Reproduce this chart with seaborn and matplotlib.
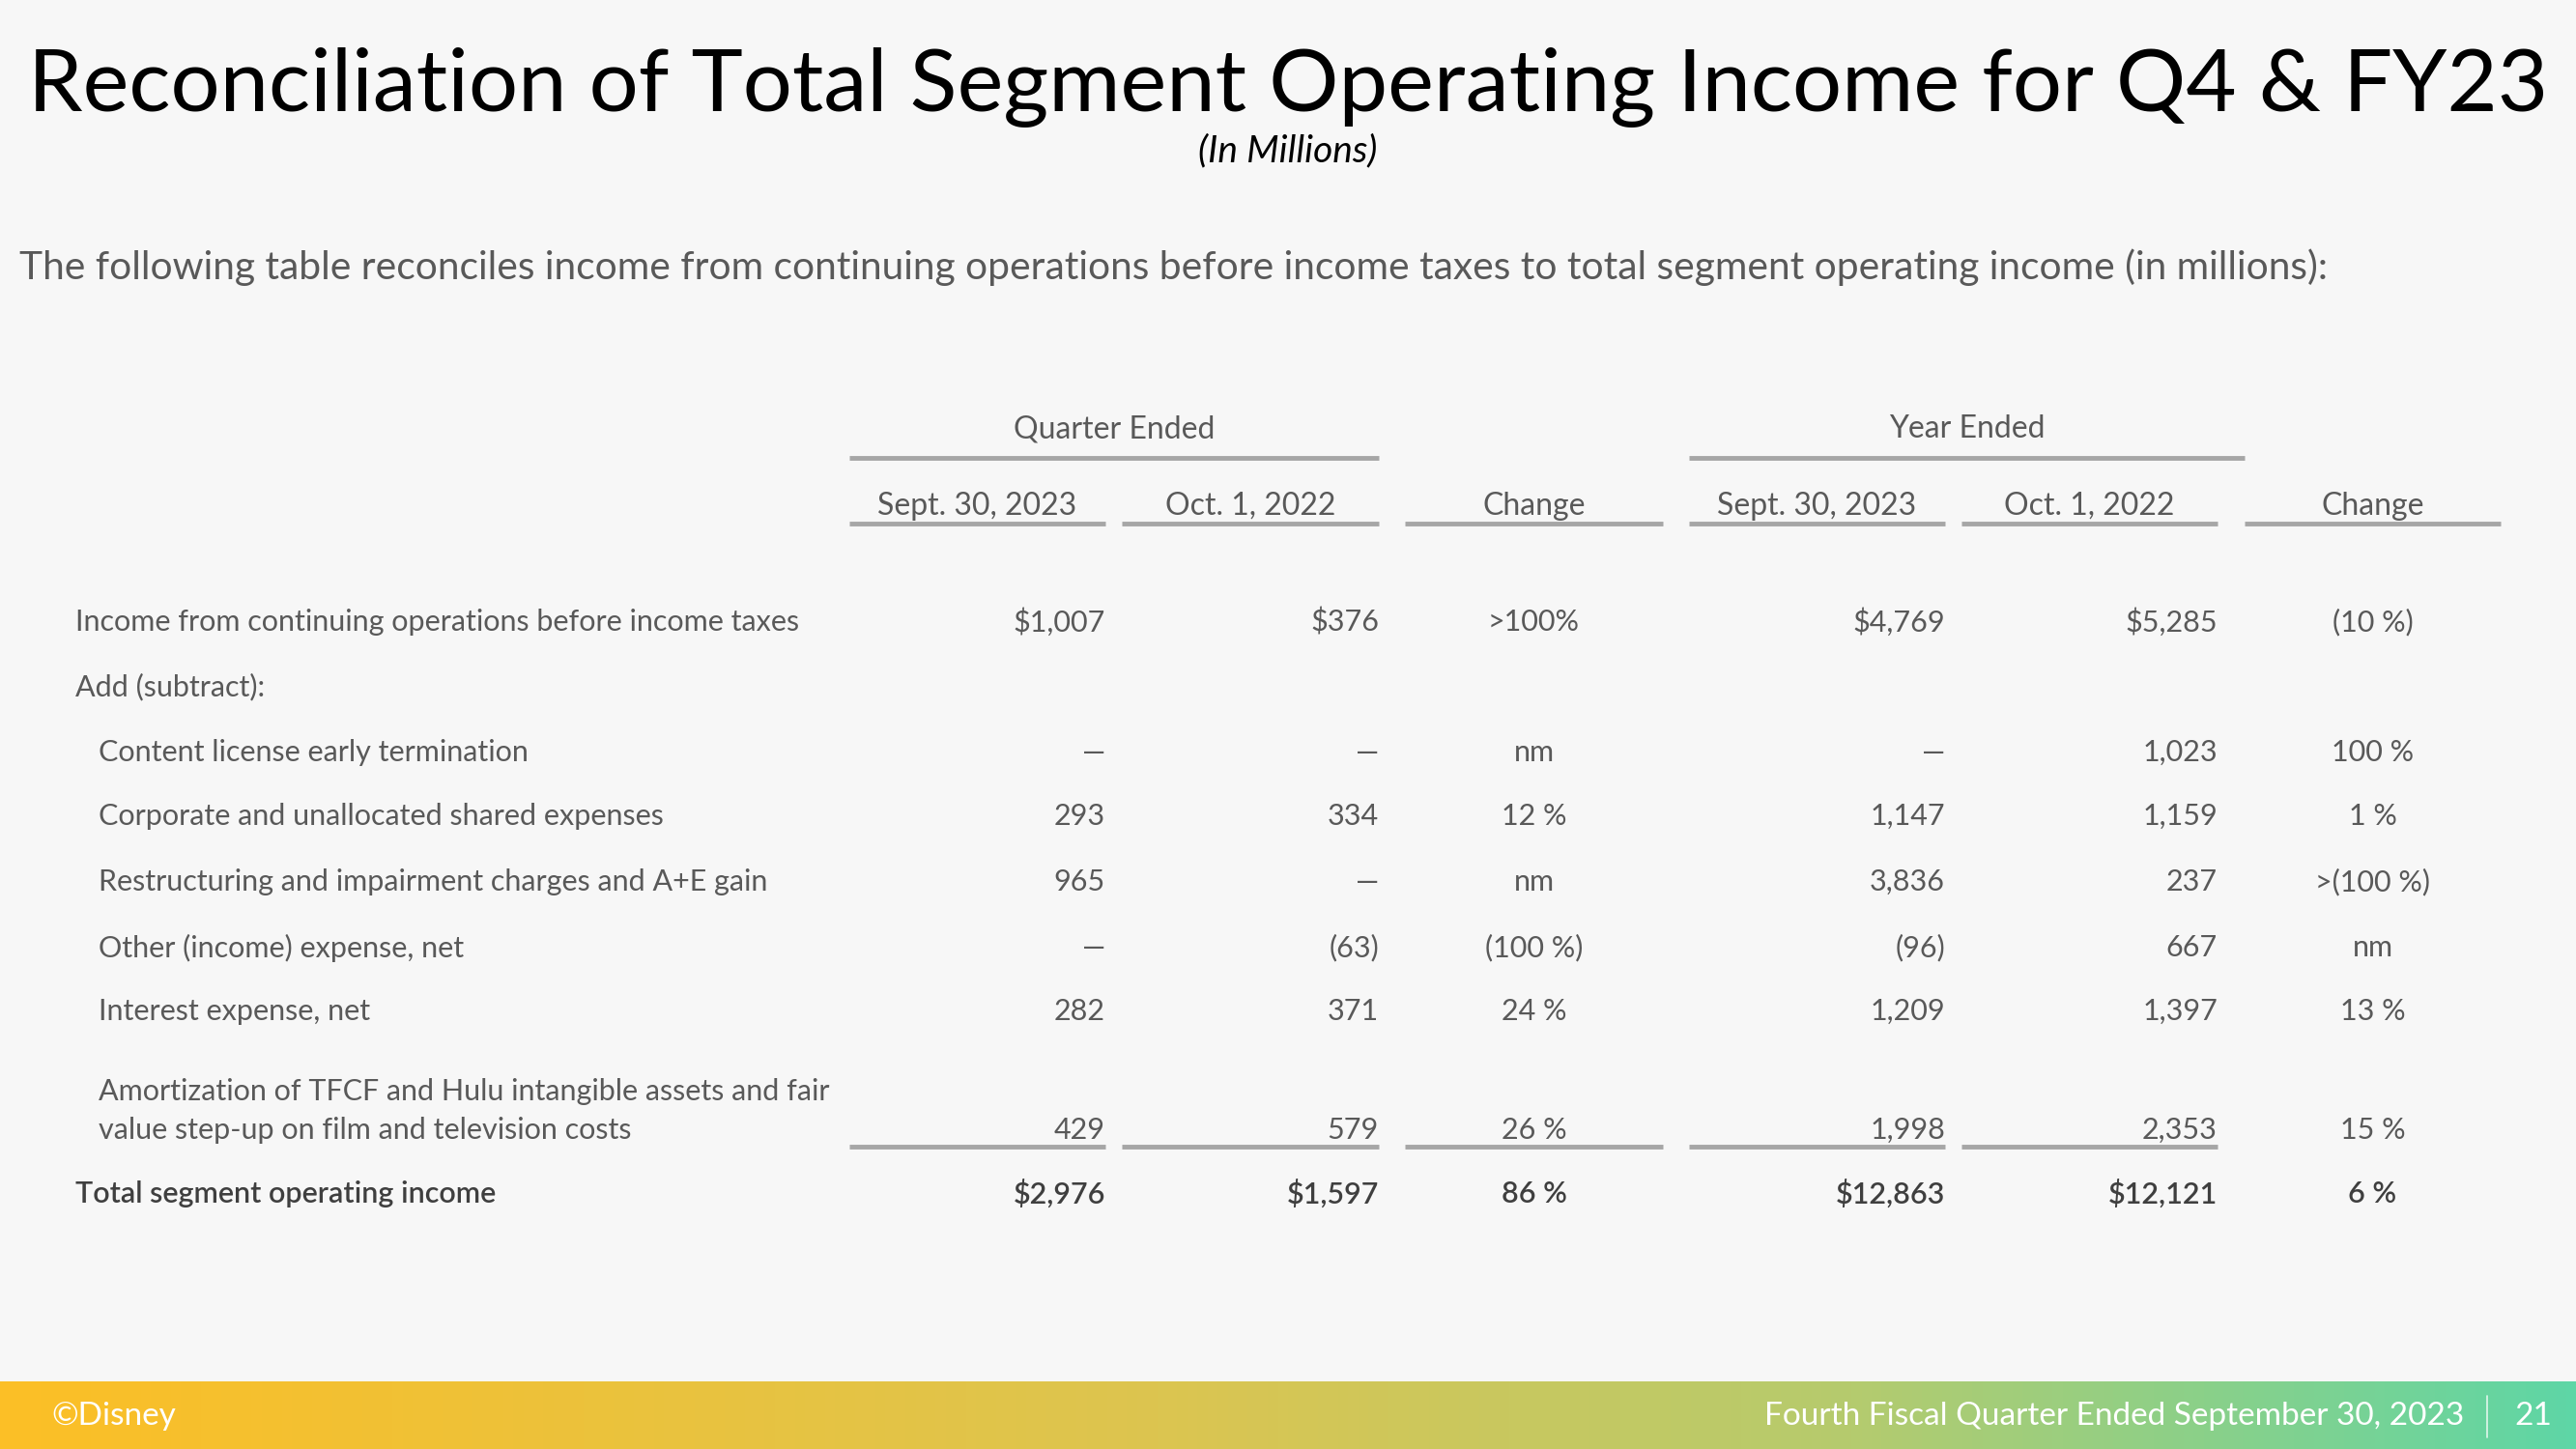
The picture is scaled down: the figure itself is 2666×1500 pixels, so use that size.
''' Reconciliation of Total Segment Operating Income - table slide '''

import matplotlib.pyplot as plt
import matplotlib.colors as mcolors
import numpy as np
import seaborn as sns

# --- data -------------------------------------------------------------
row_labels = [
    "Income from continuing operations before income taxes",
    "Add (subtract):",
    "Content license early termination",
    "Corporate and unallocated shared expenses",
    "Restructuring and impairment charges and A+E gain",
    "Other (income) expense, net",
    "Interest expense, net",
    "Amortization of TFCF and Hulu intangible assets and fair\nvalue step-up on film and television costs",
    "Total segment operating income",
]
row_indent = [0, 0, 1, 1, 1, 1, 1, 1, 0]

# None = blank cell, 0 = dash
quarter_2023 = [1007, None, 0, 293, 965, 0, 282, 429, 2976]
quarter_2022 = [376, None, 0, 334, 0, -63, 371, 579, 1597]
quarter_change = [">100%", "", "nm", "12 %", "nm", "(100 %)", "24 %", "26 %", "86 %"]
year_2023 = [4769, None, 0, 1147, 3836, -96, 1209, 1998, 12863]
year_2022 = [5285, None, 1023, 1159, 237, 667, 1397, 2353, 12121]
year_change = ["(10 %)", "", "100 %", "1 %", ">(100 %)", "nm", "13 %", "15 %", "6 %"]
dollar_rows = [0, 8]

column_headers = ["Sept. 30, 2023", "Oct. 1, 2022", "Change",
                  "Sept. 30, 2023", "Oct. 1, 2022", "Change"]
group_headers = ["Quarter Ended", "Year Ended"]


def fmt(value, dollar):
    if value is None:
        return ""
    if value == 0:
        return "\u2014"
    s = f"{abs(value):,}"
    if dollar:
        s = "$" + s
    if value < 0:
        s = f"({s})"
    return s


# --- layout -----------------------------------------------------------
W, H = 2666, 1500
BG = "#F7F7F7"
GREY = "#595959"
LINE = "#A6A6A6"
TABLE_FONT = ["Lato", "DejaVu Sans"]

col_left = [879, 1161, 1454, 1748, 2030, 2323]
col_right = [1144, 1427, 1721, 2013, 2295, 2588]
row_y = [644, 711, 779, 845, 913, 981, 1047, 1170, 1236]
# group header underline spans (pixels)
group_span = [(879, 1427), (1748, 2323)]

sns.set_theme(style="white")
plt.rcParams["font.family"] = TABLE_FONT

fig = plt.figure(figsize=(W / 100, H / 100), dpi=100, facecolor=BG)
ax = fig.add_axes([0, 0, 1, 1])
ax.set_xlim(0, W)
ax.set_ylim(H, 0)
ax.set_facecolor(BG)
ax.axis("off")

# title
ax.text(W / 2, 90, "Reconciliation of Total Segment Operating Income for Q4 & FY23",
        ha="center", va="center", fontsize=65, color="black")
ax.text(W / 2, 156, "(In Millions)", ha="center", va="center", fontsize=28,
        style="italic", color="black")
ax.text(20, 277, "The following table reconciles income from continuing operations before "
        "income taxes to total segment operating income (in millions):",
        ha="left", va="center", fontsize=29.3, color=GREY)

# group headers
for name, (x0, x1) in zip(group_headers, group_span):
    ax.text((x0 + x1) / 2, 444, name, ha="center", va="center", fontsize=23, color=GREY)
    ax.plot([x0, x1], [474, 474], color=LINE, lw=3.5, solid_capstyle="butt")

# column headers
for c, name in enumerate(column_headers):
    ax.text((col_left[c] + col_right[c]) / 2, 524, name, ha="center", va="center",
            fontsize=23, color=GREY)
    ax.plot([col_left[c], col_right[c]], [542, 542], color=LINE, lw=3.5,
            solid_capstyle="butt")

# body
value_cols = [quarter_2023, quarter_2022, None, year_2023, year_2022, None]
change_cols = {2: quarter_change, 5: year_change}
for r, label in enumerate(row_labels):
    total = r == len(row_labels) - 1
    color = "#3F3F3F" if total else GREY
    weight = "semibold" if total else "normal"
    y = row_y[r]
    label_y = y - 20 if "\n" in label else y
    ax.text(78 + 24 * row_indent[r], label_y, label, ha="left", va="center",
            fontsize=22, color=color, fontweight=weight, linespacing=1.55)
    for c in range(6):
        if c in change_cols:
            ax.text((col_left[c] + col_right[c]) / 2, y, change_cols[c][r],
                    ha="center", va="center", fontsize=22, color=color, fontweight=weight)
        else:
            ax.text(col_right[c], y, fmt(value_cols[c][r], r in dollar_rows),
                    ha="right", va="center", fontsize=22, color=color, fontweight=weight)

# underline before the total row
for c in range(5):
    ax.plot([col_left[c], col_right[c]], [1187, 1187], color=LINE, lw=3.5,
            solid_capstyle="butt")

# footer gradient band
cmap = mcolors.LinearSegmentedColormap.from_list(
    "band", [(0, "#FCBF26"), (0.45, "#DCC550"), (0.72, "#B5CB6E"), (1, "#5ED6A6")])
grad = np.linspace(0, 1, 512).reshape(1, -1)
ax.imshow(grad, cmap=cmap, aspect="auto", extent=[0, W, H, 1430], zorder=0)
ax.set_xlim(0, W)
ax.set_ylim(H, 0)
ax.text(53, 1466, "\u00a9Disney", ha="left", va="center", fontsize=24, color="white")
ax.text(2550, 1466, "Fourth Fiscal Quarter Ended September 30, 2023", ha="right",
        va="center", fontsize=24, color="white")
ax.plot([2574, 2574], [1445, 1488], color="white", lw=1.2, alpha=0.8)
ax.text(2622, 1466, "21", ha="center", va="center", fontsize=24, color="white")

fig.savefig("out.png", dpi=100, facecolor=BG)
